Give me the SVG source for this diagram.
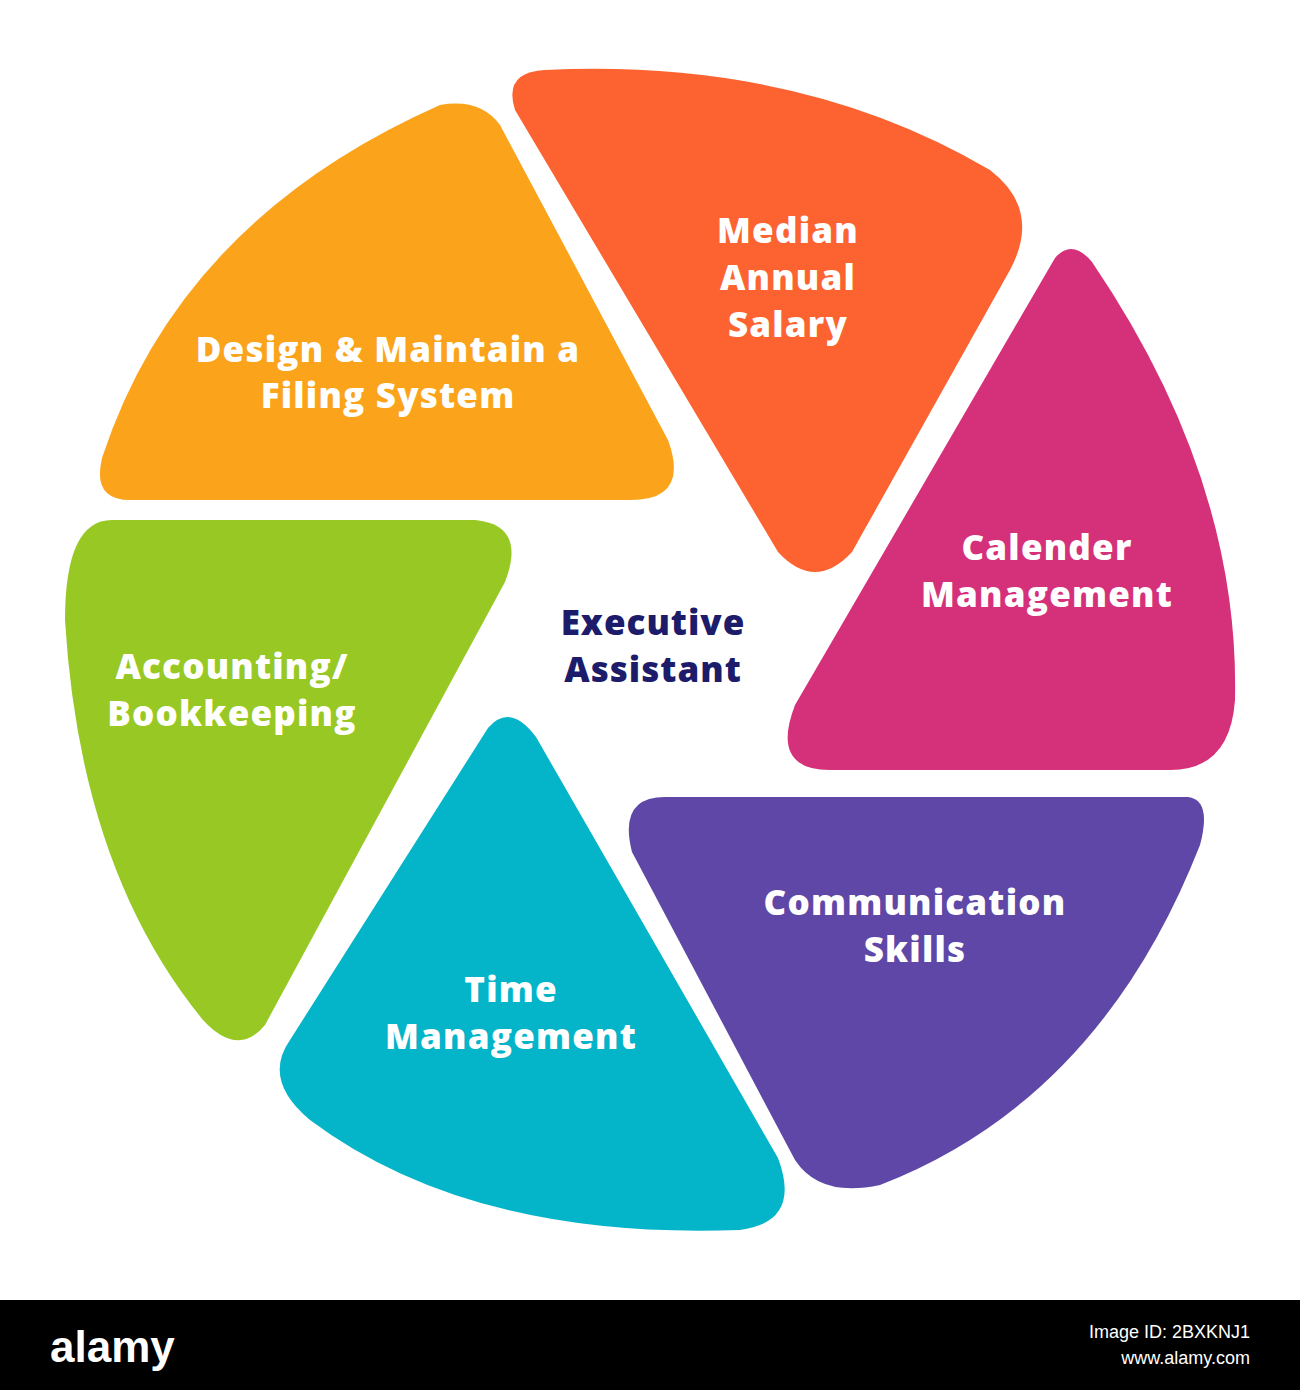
<svg xmlns="http://www.w3.org/2000/svg" width="1300" height="1390" viewBox="0 0 1300 1390">
<style>
.t{font-family:"Open Sans","DejaVu Sans",sans-serif;font-weight:800;font-size:35px;letter-spacing:1.2px;fill:#fff;text-anchor:middle}
.c{font-family:"Open Sans","DejaVu Sans",sans-serif;font-weight:800;font-size:35px;letter-spacing:1px;fill:#1c1c6b;text-anchor:middle}
</style>
<rect width="1300" height="1390" fill="#fff"/>
<g id="design"><path d="M440,105 Q480,98 500,125 L668,440 Q690,500 630,500 L130,500 Q92,500 102,458 Q180,220 440,105 Z" fill="#FBA31A"/>
<text class="t" x="388" y="362">Design &amp; Maintain a</text><text class="t" x="388" y="408">Filing System</text></g>
<g id="median"><path d="M545,70 Q800,58 990,170 Q1042,210 1010,270 L852,552 Q815,592 778,552 L515,110 Q503,72 545,70 Z" fill="#FD6331"/>
<text class="t" x="788" y="243">Median</text><text class="t" x="788" y="290">Annual</text><text class="t" x="788" y="337">Salary</text></g>
<g id="calender"><path d="M1055,258 Q1072,238 1092,262 Q1240,480 1235,700 Q1230,770 1170,770 L830,770 Q770,770 795,705 Z" fill="#D5307A"/>
<text class="t" x="1047" y="560">Calender</text><text class="t" x="1047" y="607">Management</text></g>
<g id="communication"><path d="M665,797 L1188,797 Q1212,800 1200,845 Q1100,1100 880,1185 Q820,1198 795,1160 L632,852 Q618,797 665,797 Z" fill="#5E47A6"/>
<text class="t" x="915" y="915">Communication</text><text class="t" x="915" y="962">Skills</text></g>
<g id="time"><path d="M488,728 Q510,702 536,737 L778,1158 Q802,1222 740,1230 Q470,1240 310,1120 Q262,1080 290,1040 Z" fill="#04B4C9"/>
<text class="t" x="511" y="1002">Time</text><text class="t" x="511" y="1049">Management</text></g>
<g id="accounting"><path d="M112,520 L475,520 Q527,525 505,582 L265,1025 Q238,1058 203,1020 Q80,870 65,620 Q65,520 112,520 Z" fill="#97C823"/>
<text class="t" x="232" y="679">Accounting/</text><text class="t" x="232" y="726">Bookkeeping</text></g>
<g id="center"><text class="c" x="653" y="635">Executive</text><text class="c" x="653" y="682">Assistant</text></g>
<g id="connectors"/>
<rect x="0" y="1300" width="1300" height="90" fill="#000"/>
<text x="50" y="1362" font-family="Liberation Sans,sans-serif" font-weight="700" font-size="44" fill="#fff">alamy</text>
<text x="1250" y="1338" font-family="Liberation Sans,sans-serif" font-size="18" fill="#fff" text-anchor="end">Image ID: 2BXKNJ1</text>
<text x="1250" y="1364" font-family="Liberation Sans,sans-serif" font-size="18" fill="#fff" text-anchor="end">www.alamy.com</text>
</svg>
